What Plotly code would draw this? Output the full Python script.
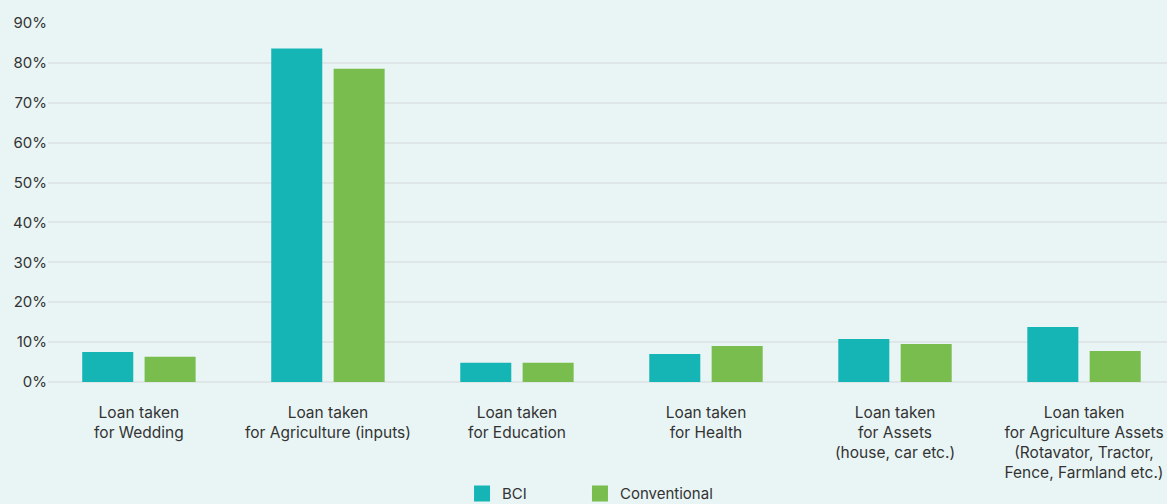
import plotly.graph_objects as go

categories = [
    "Loan taken<br>for Wedding",
    "Loan taken<br>for Agriculture (inputs)",
    "Loan taken<br>for Education",
    "Loan taken<br>for Health",
    "Loan taken<br>for Assets<br>(house, car etc.)",
    "Loan taken<br>for Agriculture Assets<br>(Rotavator, Tractor,<br>Fence, Farmland etc.)",
]
bci = [7.5, 83.6, 4.8, 7.0, 10.8, 13.8]
conventional = [6.3, 78.5, 4.8, 9.0, 9.5, 7.8]
y_ticks = [0, 10, 20, 30, 40, 50, 60, 70, 80, 90]
y_tick_labels = [f"{v}%" for v in y_ticks]

BG = "#E9F5F5"
FONT = "Inter"
TXT = "#333333"
C_BCI = "#16B5B5"
C_CONV = "#78BD4E"

xs = list(range(len(categories)))
fig = go.Figure()
fig.add_trace(go.Bar(x=xs, y=bci, name="BCI", width=0.27, offset=-0.30,
                     marker=dict(color=C_BCI, line=dict(width=0)), showlegend=False))
fig.add_trace(go.Bar(x=xs, y=conventional, name="Conventional", width=0.27, offset=0.03,
                     marker=dict(color=C_CONV, line=dict(width=0)), showlegend=False))
# legend entries (square swatches), one legend each so they can be placed apart
fig.add_trace(go.Scatter(x=[None], y=[None], mode="markers", name="BCI", legend="legend",
                         marker=dict(symbol="square", size=16, color=C_BCI)))
fig.add_trace(go.Scatter(x=[None], y=[None], mode="markers", name="Conventional", legend="legend2",
                         marker=dict(symbol="square", size=16, color=C_CONV)))

leg_common = dict(orientation="h", yanchor="top", y=-0.265, xanchor="left",
                  font=dict(family=FONT, size=15, color=TXT),
                  itemsizing="trace", bgcolor="rgba(0,0,0,0)")

fig.update_layout(
    width=1167, height=504,
    paper_bgcolor=BG, plot_bgcolor=BG,
    margin=dict(l=48, r=0, t=23, b=122, autoexpand=False),
    barmode="overlay",
    font=dict(family=FONT, size=15, color=TXT),
    showlegend=True,
    legend=dict(x=0.37, **leg_common),
    legend2=dict(x=0.4754, **leg_common),
    hovermode=False,
)
fig.update_xaxes(
    range=[-0.481, 5.439], automargin=False,
    tickmode="array", tickvals=xs, ticktext=categories,
    showgrid=False, zeroline=False, showline=False,
    ticks="outside", ticklen=16, tickcolor="rgba(0,0,0,0)",
    tickfont=dict(family=FONT, size=15.5, color=TXT),
)
fig.update_yaxes(
    range=[0, 90], automargin=False,
    tickmode="array", tickvals=y_ticks, ticktext=y_tick_labels,
    showgrid=True, gridcolor="#DFE6E8", gridwidth=2,
    zeroline=True, zerolinecolor="#DFE6E8", zerolinewidth=2,
    showline=False,
    ticks="outside", ticklen=0, tickcolor="rgba(0,0,0,0)",
    ticklabelstandoff=-3,
    tickfont=dict(family=FONT, size=15, color=TXT),
)

fig.write_html("out.html")
